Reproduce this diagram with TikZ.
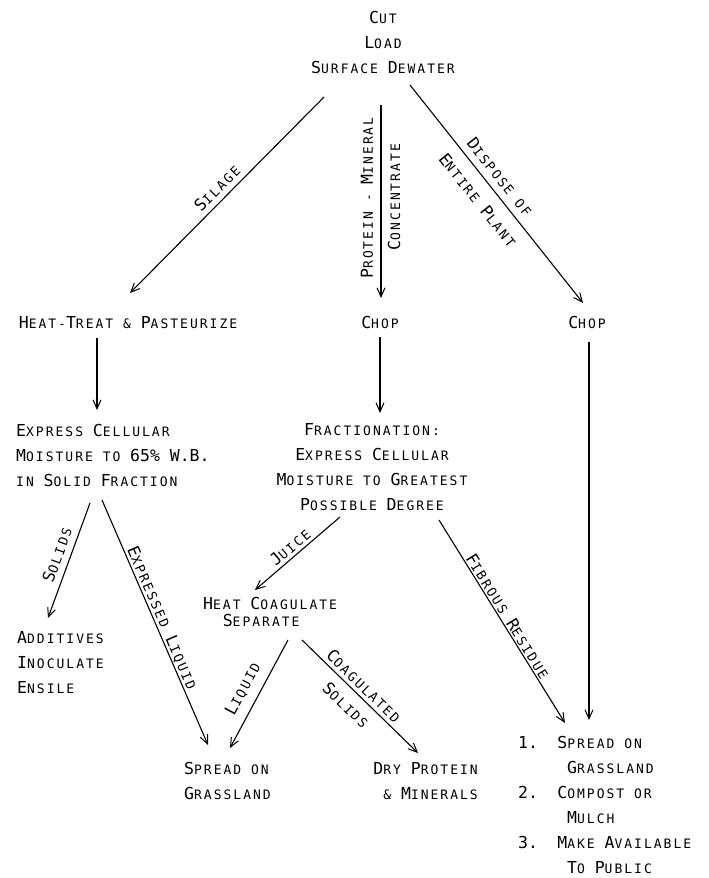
\documentclass[tikz,border=0pt]{standalone}
\usepackage{fontspec}
\usetikzlibrary{arrows.meta}
\newfontfamily\capf{DejaVu Sans Mono}
\newfontfamily\smf{DejaVu Sans Mono}[LetterSpace=15.4]
\newcommand\K[1]{{\capf\fontsize{16.5}{25}\selectfont #1}}
\begin{document}
\begin{tikzpicture}[x=1pt,y=1pt,
  every node/.style={inner sep=0pt, font=\smf\fontsize{13}{25}\selectfont},
  lab/.style={inner sep=0pt},
  box/.style={inner sep=0pt},
  arr/.style={line width=1.1pt, -{Straight Barb[length=9pt,width=8pt,line width=1pt]}}]
\useasboundingbox (0,0) rectangle (709,-878);
% process nodes
\node[box, anchor=north, align=center] (top) at (383,-11) {\K{C}UT\\\K{L}OAD\\\K{S}URFACE \K{D}EWATER};
\node[box, anchor=north] (ht) at (128,-316) {\K{H}EAT-\K{T}REAT \& \K{P}ASTEURIZE};
\node[box, anchor=north] (chop1) at (380,-316) {\K{C}HOP};
\node[box, anchor=north] (chop2) at (587,-316) {\K{C}HOP};
\node[box, anchor=north west, align=left] (exl) at (16,-424) {\K{E}XPRESS \K{C}ELLULAR\\\K{M}OISTURE TO \K{65\%} \K{W.B.}\\IN \K{S}OLID \K{F}RACTION};
\node[box, anchor=north, align=center] (frac) at (372,-423) {\K{F}RACTIONATION:\\\K{E}XPRESS \K{C}ELLULAR\\\K{M}OISTURE TO \K{G}REATEST\\\K{P}OSSIBLE \K{D}EGREE};
\node[box, anchor=north west, align=left] (add) at (17,-631) {\K{A}DDITIVES\\\K{I}NOCULATE\\\K{E}NSILE};
\node[box, anchor=north west, align=left] (hc) at (203,-597) {\K{H}EAT \K{C}OAGULATE\\[-8pt]\hspace*{19.6pt}\K{S}EPARATE};
\node[box, anchor=north west, align=left] (sp) at (184,-762) {\K{S}PREAD ON\\\K{G}RASSLAND};
\node[box, anchor=north east, align=right] (dp) at (478,-762) {\K{D}RY \K{P}ROTEIN\\\& \K{M}INERALS};
\node[box, anchor=north west, align=left] (list) at (518,-736) {%
\makebox[39.2pt][l]{\K{1.}}\K{S}PREAD ON\\
\hspace*{49pt}\K{G}RASSLAND\\
\makebox[39.2pt][l]{\K{2.}}\K{C}OMPOST OR\\
\hspace*{49pt}\K{M}ULCH\\
\makebox[39.2pt][l]{\K{3.}}\K{M}AKE \K{A}VAILABLE\\
\hspace*{49pt}\K{T}O \K{P}UBLIC};
% connectors
\draw[arr] ([shift={(-59pt,-86pt)}]top.north) -- ([shift={(2pt,23pt)}]ht.north);
\draw[arr] ([shift={(-2pt,-94pt)}]top.north) -- ([shift={(1pt,18pt)}]chop1.north);
\draw[arr] ([shift={(27pt,-74pt)}]top.north) -- ([shift={(-4pt,13pt)}]chop2.north);
\draw[arr] ([shift={(-31pt,-22pt)}]ht.north) -- ([shift={(81pt,14pt)}]exl.north west);
\draw[arr] ([shift={(0pt,-21pt)}]chop1.north) -- ([shift={(8pt,10pt)}]frac.north);
\draw[arr] ([shift={(2pt,-26pt)}]chop2.north) -- ([shift={(71pt,16pt)}]list.north west);
\draw[arr] ([shift={(74pt,-79pt)}]exl.north west) -- ([shift={(31pt,13pt)}]add.north west);
\draw[arr] ([shift={(86pt,-76pt)}]exl.north west) -- ([shift={(24pt,17pt)}]sp.north west);
\draw[arr] ([shift={(-32pt,-94pt)}]frac.north) -- ([shift={(52pt,7pt)}]hc.north west);
\draw[arr] ([shift={(67pt,-97pt)}]frac.north) -- ([shift={(47pt,13pt)}]list.north west);
\draw[arr] ([shift={(85pt,-43pt)}]hc.north west) -- ([shift={(46pt,14pt)}]sp.north west);
\draw[arr] ([shift={(99pt,-43pt)}]hc.north west) -- ([shift={(-60pt,9pt)}]dp.north east);
% labels
\node[lab, rotate=45] (lsil) at (217,-188) {\K{S}ILAGE};
\node[lab, rotate=90] (lpm) at (367,-198) {\K{P}ROTEIN - \K{M}INERAL};
\node[lab, rotate=90] (lcon) at (394,-197) {\K{C}ONCENTRATE};
\node[lab, rotate=-51.6] (ldis) at (500,-177) {\K{D}ISPOSE OF};
\node[lab, rotate=-51.6] (lent) at (478,-200) {\K{E}NTIRE \K{P}LANT};
\node[lab, rotate=70] (lsol) at (57,-555) {\K{S}OLIDS};
\node[lab, rotate=-66.6] (lexp) at (162,-618) {\K{E}XPRESSED \K{L}IQUID};
\node[lab, rotate=40.6] (ljui) at (290,-547) {\K{J}UICE};
\node[lab, rotate=-58.2] (lfib) at (508,-616) {\K{F}IBROUS \K{R}ESIDUE};
\node[lab, rotate=61.8] (lliq) at (243,-689) {\K{L}IQUID};
\node[lab, rotate=-44.2] (lcoa) at (364,-686) {\K{C}OAGULATED};
\node[lab, rotate=-44.2] (lsds) at (346,-705) {\K{S}OLIDS};
\end{tikzpicture}
\end{document}
